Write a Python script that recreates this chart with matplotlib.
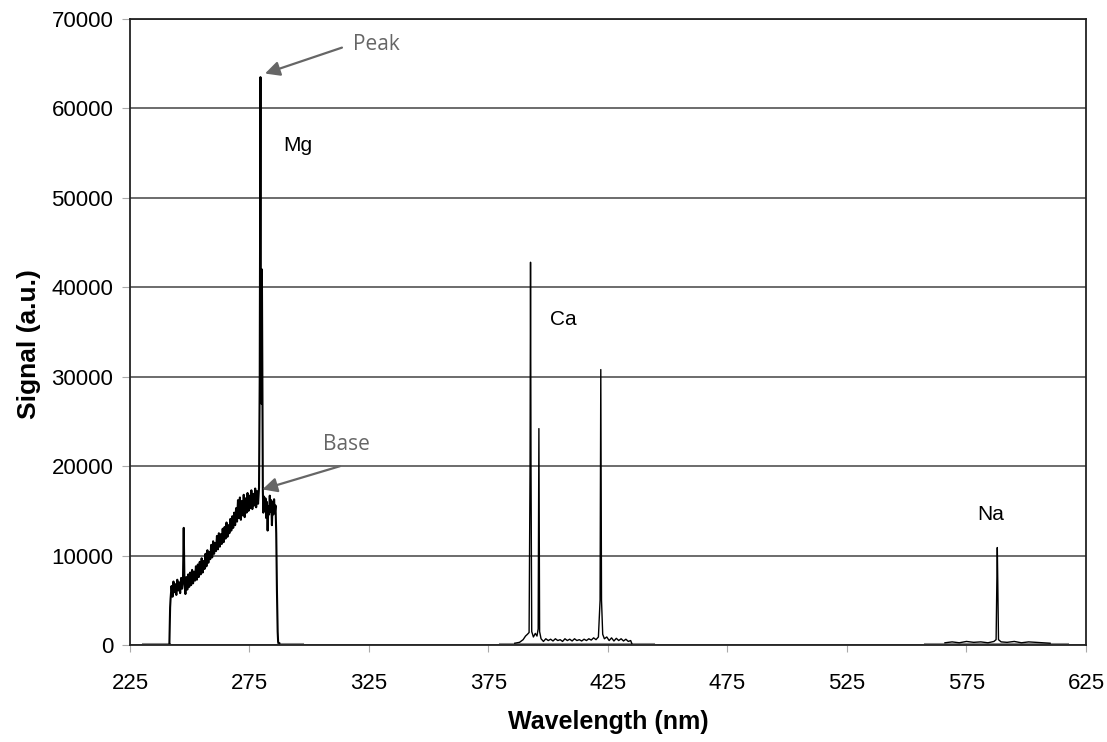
import numpy as np
import matplotlib.pyplot as plt

# Mg band
mg_wl = [241.5, 241.8, 242.0, 242.4, 242.8, 243.2, 243.6, 244.0, 244.4, 244.8,
         245.2, 245.6, 246.0, 246.4, 246.8, 247.2, 247.5, 247.8, 248.2, 248.6,
         249.0, 249.4, 249.8, 250.2, 250.6, 251.0, 251.4, 251.8, 252.2, 252.6,
         253.0, 253.4, 253.8, 254.2, 254.6, 255.0, 255.4, 255.8, 256.2, 256.6,
         257.0, 257.4, 257.8, 258.2, 258.6, 259.0, 259.4, 259.8, 260.2, 260.6,
         261.0, 261.4, 261.8, 262.2, 262.6, 263.0, 263.4, 263.8, 264.2, 264.6,
         265.0, 265.4, 265.8, 266.2, 266.6, 267.0, 267.4, 267.8, 268.2, 268.6,
         269.0, 269.4, 269.8, 270.2, 270.6, 271.0, 271.4, 271.8, 272.2, 272.6,
         273.0, 273.4, 273.8, 274.2, 274.6, 275.0, 275.4, 275.8, 276.2, 276.6,
         277.0, 277.4, 277.8, 278.2, 278.6, 279.0, 279.3, 279.6, 279.8, 280.0,
         280.2, 280.4, 280.6, 280.8, 281.1, 281.4, 281.7, 282.0, 282.3, 282.6,
         282.9, 283.2, 283.5, 283.8, 284.1, 284.4, 284.7, 285.0, 285.3, 285.6,
         285.9, 286.2, 286.5, 286.8, 287.0, 287.5]
mg_sig = [200, 4200, 5200, 6600, 5400, 7100, 5900, 6800, 5600, 7300,
          6100, 7000, 5800, 7500, 6300, 7600, 13100, 6900, 5700, 7600,
          6200, 7900, 6500, 8100, 6700, 8400, 6900, 8200, 7200, 8800,
          7300, 9000, 7600, 9300, 7900, 9700, 8100, 9400, 8500, 10200,
          8800, 10600, 9200, 10400, 9600, 11200, 9800, 11600, 10200, 11400,
          10500, 12200, 10700, 12500, 11000, 12400, 11300, 13000, 11500, 13200,
          11900, 13700, 12100, 13400, 12500, 14100, 12800, 14400, 13100, 14800,
          13400, 15300, 13800, 16200, 14200, 16500, 14000, 16100, 14500, 16800,
          14300, 16400, 14800, 17000, 15000, 16700, 15300, 17300, 15200, 16900,
          15600, 17500, 15400, 17200, 15800, 17600, 30000, 63500, 30000, 27000,
          42000, 30000, 17200, 14800, 16600, 15000, 16400, 14200, 16000, 12800,
          15500, 14600, 16700, 14900, 16200, 13400, 16000, 14600, 16300, 14800,
          15600, 12500, 6000, 1500, 300, 200]

# Ca band
ca_wl = [386.0, 388.0, 389.5, 390.5, 391.3, 392.0, 392.4, 392.6, 392.8, 393.1,
         393.8, 394.6, 395.3, 395.8, 396.1, 396.4, 397.0, 398.0, 399.0, 400.0,
         401.0, 402.0, 403.0, 404.0, 405.0, 406.0, 407.0, 408.0, 409.0, 410.0,
         411.0, 412.0, 413.0, 414.0, 415.0, 416.0, 417.0, 418.0, 419.0, 420.0,
         421.0, 421.7, 422.0, 422.3, 422.8, 423.5, 424.5, 425.5, 426.5, 427.5,
         428.5, 429.5, 430.5, 431.5, 432.5, 433.5, 434.5, 435.0]
ca_sig = [200, 300, 600, 1000, 1200, 1400, 20000, 42800, 20000, 1500,
          900, 1300, 1000, 1800, 24200, 1500, 700, 400, 700, 500,
          650, 450, 700, 500, 600, 400, 700, 500, 650, 450,
          700, 500, 600, 450, 650, 500, 700, 550, 800, 600,
          900, 5000, 30800, 5000, 1200, 700, 900, 500, 800, 450,
          750, 500, 700, 450, 650, 400, 500, 150]

# Na band
na_wl = [566.0, 569.0, 572.0, 575.0, 578.0, 581.0, 584.0, 586.5, 587.4, 587.7,
         587.9, 588.1, 588.4, 589.5, 592.0, 595.0, 598.0, 601.0, 604.0, 607.0,
         610.0]
na_sig = [250, 350, 250, 400, 300, 350, 250, 400, 600, 6800,
          10900, 7000, 600, 350, 300, 400, 250, 350, 300, 250,
          200]

# flat grey baseline stretches (start, end)
base_spans = [(230.5, 241.5), (287.0, 297.0), (380.0, 444.0), (557.5, 617.0)]
base_level = 150

x_ticks = [225, 275, 325, 375, 425, 475, 525, 575, 625]
y_ticks = [0, 10000, 20000, 30000, 40000, 50000, 60000, 70000]

fig = plt.figure(figsize=(11.07, 7.42), dpi=100)
ax = fig.add_axes([0.1174, 0.1307, 0.8636, 0.8437])

ax.grid(axis='y', color='#444444', linewidth=1.1)
ax.set_axisbelow(True)

for start, end in base_spans:
    ax.plot([start, end], [base_level, base_level], color='#888888', linewidth=2.2)

ax.plot(mg_wl, mg_sig, color='black', linewidth=1.5)
ax.plot(ca_wl, ca_sig, color='black', linewidth=1.0)
ax.plot(na_wl, na_sig, color='black', linewidth=1.0)

ax.set_xlim(225, 625)
ax.set_ylim(0, 70000)
ax.set_xticks(x_ticks)
ax.set_yticks(y_ticks)

font = 'Liberation Sans'
for lab in ax.get_xticklabels() + ax.get_yticklabels():
    lab.set_fontfamily(font)
    lab.set_fontsize(16)
ax.tick_params(axis='x', direction='out', length=5, color='#aaaaaa', pad=15)
ax.tick_params(axis='y', direction='out', length=6, color='#aaaaaa', pad=6)

for side in ax.spines.values():
    side.set_color('#222222')
    side.set_linewidth(1.3)

ax.set_xlabel('Wavelength (nm)', fontfamily=font, fontweight='bold', fontsize=18, labelpad=12)
ax.set_ylabel('Signal (a.u.)', fontfamily=font, fontweight='bold', fontsize=19)
ax.yaxis.set_label_coords(-0.093, 0.48)

ax.text(289, 55900, 'Mg', fontfamily=font, fontsize=15, va='center')
ax.text(400.7, 36350, 'Ca', fontfamily=font, fontsize=15, va='center')
ax.text(579.4, 14540, 'Na', fontfamily=font, fontsize=15, va='center')

arrow = dict(arrowstyle='-|>', color='#666666', linewidth=1.6, mutation_scale=22,
             shrinkA=0, shrinkB=0)
ax.annotate('', xy=(281.5, 63900), xytext=(313.7, 66800), arrowprops=arrow)
ax.text(318.3, 67100, 'Peak', fontfamily='Open Sans', fontsize=15, color='#666666', va='center')
ax.annotate('', xy=(280.4, 17400), xytext=(312.9, 20000), arrowprops=arrow)
ax.text(305.7, 22430, 'Base', fontfamily='Open Sans', fontsize=15, color='#666666', va='center')

fig.savefig('out.png', dpi=100)
plt.close(fig)
